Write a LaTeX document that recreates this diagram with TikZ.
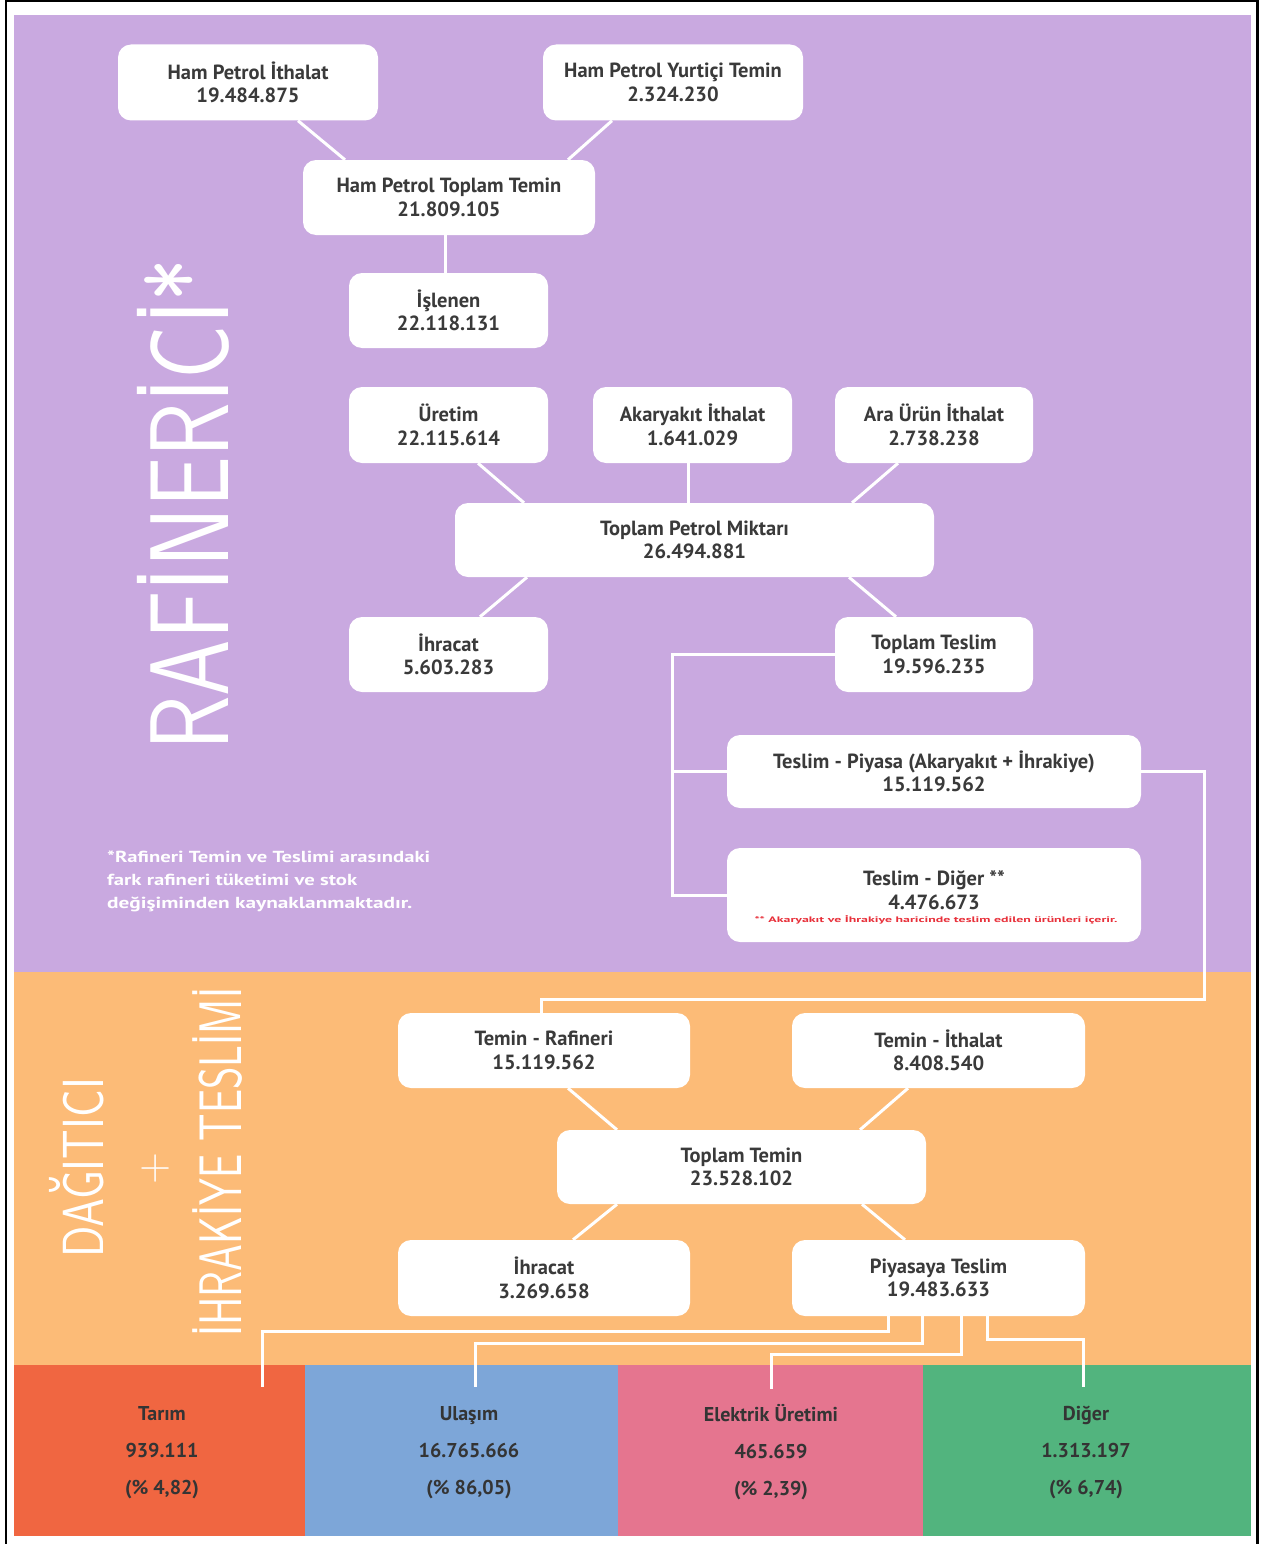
\documentclass[tikz,border=0pt]{standalone}
\usepackage{fontspec}
\setmainfont{PT Sans}
\definecolor{purp}{HTML}{C9A9E0}
\definecolor{orng}{HTML}{FCBB77}
\definecolor{tred}{HTML}{F06641}
\definecolor{tblu}{HTML}{7DA6D8}
\definecolor{tpnk}{HTML}{E5758F}
\definecolor{tgrn}{HTML}{52B47E}
\definecolor{txt}{HTML}{3A3A3A}
\definecolor{noteRed}{HTML}{E8303A}
\tikzset{
 box/.style={fill=white, rounded corners=13pt, inner sep=0pt, align=center, text=txt, font=\fontsize{20.5}{23.5}\selectfont\bfseries},
 conn/.style={draw=white, line width=3pt},
 vtitle/.style={rotate=90, text=white, inner sep=0pt},
 sector/.style={align=center, text=txt!90!black, inner sep=0pt, font=\fontsize{20}{37}\selectfont\bfseries},
}
\begin{document}
\begin{tikzpicture}[x=1pt,y=-1pt]
\useasboundingbox (0,0) rectangle (1261,1544);
\fill[white] (0,0) rectangle (1261,1544);
\draw[black, line width=2.5pt] (6,1544) -- (6,1) -- (1257.5,1) -- (1257.5,1544);
% backgrounds
\fill[purp] (14,15) rectangle (1251,972);
\fill[orng] (14,972) rectangle (1251,1365);
\fill[tred] (14,1365) rectangle (305,1536);
\fill[tblu] (305,1365) rectangle (618,1536);
\fill[tpnk] (618,1365) rectangle (923,1536);
\fill[tgrn] (923,1365) rectangle (1251,1536);
% vertical titles
\node[vtitle, anchor=base west, font=\sffamily\fontsize{112}{112}\selectfont] (raf) at (228,751) {\resizebox{492pt}{\height}{RAFİNERİCİ*}};
\node[vtitle, anchor=base west, font=\sffamily\fontsize{58}{58}\selectfont] (dag) at (103,1258) {\resizebox{180pt}{\height}{DAĞITICI}};
\node[text=white, inner sep=0pt, font=\sffamily\fontsize{44}{44}\selectfont] (plus) at (156,1169) {+};
\node[vtitle, anchor=base west, font=\sffamily\fontsize{60}{60}\selectfont] (ihr) at (241,1337) {\resizebox{349pt}{\height}{İHRAKİYE TESLİMİ}};
% footnote
\node[anchor=north west, align=left, text=white, inner sep=0pt, font=\fontsize{16}{23}\selectfont\bfseries] (fn) at (107,851) {\resizebox{323pt}{\height}{*Rafineri Temin ve Teslimi arasındaki}\\\resizebox{250pt}{\height}{fark rafineri tüketimi ve stok}\\\resizebox{305pt}{\height}{değişiminden kaynaklanmaktadır.}};
% refinery boxes
\node[box, minimum width=260pt, minimum height=76pt] (hpi) at (248,82.5) {Ham Petrol İthalat\\19.484.875};
\node[box, minimum width=260pt, minimum height=76pt] (hpy) at (673,82.5) {Ham Petrol Yurtiçi Temin\\2.324.230};
\node[box, minimum width=292pt, minimum height=75pt] (hpt) at (449,197.5) {Ham Petrol Toplam Temin\\21.809.105};
\node[box, minimum width=199pt, minimum height=75pt] (isl) at (448.5,310.5) {İşlenen\\22.118.131};
\node[box, minimum width=199pt, minimum height=76pt] (ure) at (448.5,425) {Üretim\\22.115.614};
\node[box, minimum width=199pt, minimum height=76pt] (aki) at (692.5,425) {Akaryakıt İthalat\\1.641.029};
\node[box, minimum width=198pt, minimum height=76pt] (aru) at (934,425) {Ara Ürün İthalat\\2.738.238};
\node[box, minimum width=479pt, minimum height=74pt] (tpm) at (694.5,540) {Toplam Petrol Miktarı\\26.494.881};
\node[box, minimum width=199pt, minimum height=75pt] (ihc) at (448.5,654.5) {İhracat\\5.603.283};
\node[box, minimum width=198pt, minimum height=75pt] (tt) at (934,654.5) {Toplam Teslim\\19.596.235};
\node[box, minimum width=414pt, minimum height=73pt] (tsp) at (934,771.5) {Teslim - Piyasa (Akaryakıt + İhrakiye)\\15.119.562};
\node[box, minimum width=414pt, minimum height=94pt] (tsd) at (934,895) {};
\node[align=center, text=txt, inner sep=0pt, font=\fontsize{20.5}{23.5}\selectfont\bfseries] (tsdt) at (934,890) {Teslim - Diğer **\\4.476.673};
\node[text=noteRed, inner sep=0pt, font=\fontsize{8}{8}\selectfont\bfseries] (tsdn) at (936,920) {\resizebox{363pt}{\height}{** Akaryakıt ve İhrakiye haricinde teslim edilen ürünleri içerir.}};
% distributor boxes
\node[box, minimum width=292pt, minimum height=75pt] (trf) at (544,1050.5) {Temin - Rafineri\\15.119.562};
\node[box, minimum width=293pt, minimum height=75pt] (tit) at (938.5,1050.5) {Temin - İthalat\\8.408.540};
\node[box, minimum width=369pt, minimum height=74pt] (tte) at (741.5,1167) {Toplam Temin\\23.528.102};
\node[box, minimum width=292pt, minimum height=76pt] (ihd) at (544,1278) {İhracat\\3.269.658};
\node[box, minimum width=293pt, minimum height=76pt] (pts) at (938.5,1278) {Piyasaya Teslim\\19.483.633};
% sectors
\node[sector] (tar) at (162,1452.5) {Tarım\\939.111\\(\% 4,82)};
\node[sector] (ula) at (469,1452.5) {Ulaşım\\16.765.666\\(\% 86,05)};
\node[sector] (ele) at (771,1452.5) {Elektrik Üretimi\\465.659\\(\% 2,39)};
\node[sector] (dig) at (1086,1452.5) {Diğer\\1.313.197\\(\% 6,74)};
% connectors
\draw[conn] ([xshift=50pt]hpi.south) -- ([xshift=-104pt]hpt.north);
\draw[conn] ([xshift=-61pt]hpy.south) -- ([xshift=119pt]hpt.north);
\draw[conn] ([xshift=-4pt]hpt.south) -- ([xshift=-4pt]hpt.south |- isl.north);
\draw[conn] ([xshift=29.5pt]ure.south) -- ([xshift=-170.5pt]tpm.north);
\draw[conn] ([xshift=-4.5pt]aki.south) -- ([xshift=-4.5pt]aki.south |- tpm.north);
\draw[conn] ([xshift=-36pt]aru.south) -- ([xshift=157.5pt]tpm.north);
\draw[conn] ([xshift=-167.5pt]tpm.south) -- ([xshift=31.5pt]ihc.north);
\draw[conn] ([xshift=154.5pt]tpm.south) -- ([xshift=-38pt]tt.north);
\coordinate (brk) at (672,700);
\draw[conn] (tt.west) -- (tt.west -| brk) -- (tsd.west -| brk) -- (tsd.west);
\draw[conn] (tsp.west -| brk) -- (tsp.west);
\coordinate (c1) at (1204,999);
\coordinate (c2) at (541,999);
\draw[conn] (tsp.east) -| (c1) -- (c2) -- (c2 |- trf.north);
\draw[conn] ([xshift=24pt]trf.south) -- ([xshift=-124.5pt]tte.north);
\draw[conn] ([xshift=-30.5pt]tit.south) -- ([xshift=118.5pt]tte.north);
\draw[conn] ([xshift=-124.5pt]tte.south) -- ([xshift=29pt]ihd.north);
\draw[conn] ([xshift=120.5pt]tte.south) -- ([xshift=-33.5pt]pts.north);
\coordinate (e1) at (262,1387);
\coordinate (e2) at (475,1387);
\coordinate (e3) at (771,1389);
\coordinate (e4) at (1083,1387);
\draw[conn] ([xshift=-50.5pt]pts.south) -- ++(0,15) -| (e1);
\draw[conn] ([xshift=-16.5pt]pts.south) -- ++(0,27) -| (e2);
\draw[conn] ([xshift=22.5pt]pts.south) -- ++(0,38) -| (e3);
\draw[conn] ([xshift=48.5pt]pts.south) -- ++(0,23) -| (e4);
\end{tikzpicture}
\end{document}
